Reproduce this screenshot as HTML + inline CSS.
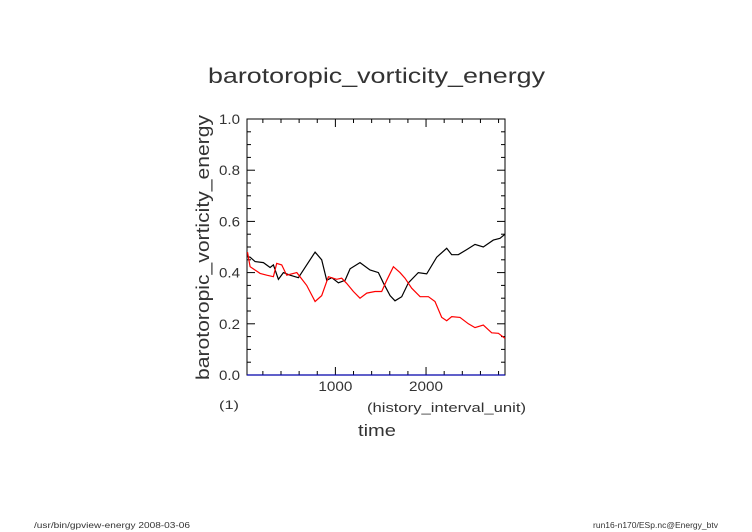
<!DOCTYPE html>
<html><head><meta charset="utf-8"><style>
body{margin:0;background:#fff;}
svg{display:block;font-family:"Liberation Sans",sans-serif;}
</style></head><body>
<svg id="c" width="752" height="532" viewBox="0 0 752 532">
<text x="208" y="83" font-size="21" fill="#333" textLength="337" lengthAdjust="spacingAndGlyphs">barotoropic_vorticity_energy</text>
<text transform="translate(209,380) rotate(-90)" font-size="18" fill="#333" textLength="265" lengthAdjust="spacingAndGlyphs">barotoropic_vorticity_energy</text>
<text x="219" y="409" font-size="12" fill="#333" textLength="20" lengthAdjust="spacingAndGlyphs">(1)</text>
<text x="367" y="412" font-size="13" fill="#333" textLength="159" lengthAdjust="spacingAndGlyphs">(history_interval_unit)</text>
<text x="358" y="436" font-size="17" fill="#333" textLength="38" lengthAdjust="spacingAndGlyphs">time</text>
<text x="34" y="528" font-size="8" fill="#333" textLength="156" lengthAdjust="spacingAndGlyphs">/usr/bin/gpview-energy  2008-03-06</text>
<text x="593" y="528" font-size="8" fill="#333" textLength="125" lengthAdjust="spacingAndGlyphs">run16-n170/ESp.nc@Energy_btv</text>
<g id="plot"></g>
</svg>
<script>
const xTicks=[1000,2000];
const yTicks=[0.0,0.2,0.4,0.6,0.8,1.0];
const blackX=[30,59,114,206,280,316,371,427,500,592,684,776,849,904,960,1033,1107,1162,1272,1382,1474,1529,1603,1658,1732,1805,1915,2007,2118,2228,2283,2356,2448,2540,2632,2742,2816,2871];
const blackY=[0.462,0.46,0.443,0.439,0.42,0.43,0.374,0.40,0.39,0.38,0.43,0.48,0.45,0.37,0.38,0.36,0.37,0.415,0.439,0.41,0.40,0.36,0.31,0.29,0.306,0.36,0.40,0.395,0.46,0.495,0.47,0.47,0.49,0.51,0.50,0.527,0.534,0.55];
const redX=[30,59,169,243,316,353,408,463,574,684,776,849,923,1015,1070,1125,1199,1272,1346,1437,1511,1566,1640,1713,1768,1842,1934,2026,2099,2173,2228,2283,2375,2467,2540,2632,2724,2798,2871];
const redY=[0.48,0.423,0.397,0.39,0.384,0.436,0.43,0.39,0.40,0.35,0.287,0.31,0.384,0.374,0.378,0.358,0.326,0.30,0.32,0.326,0.326,0.37,0.423,0.40,0.378,0.339,0.306,0.306,0.287,0.225,0.212,0.228,0.225,0.20,0.185,0.195,0.165,0.163,0.143];
const L=247,R=505,T=119,B=375,x0=25,x1=2871;
const sx=v=>L+(v-x0)/(x1-x0)*(R-L);
const sy=v=>B-v*(B-T);
const g=document.getElementById('plot');
const NS='http://www.w3.org/2000/svg';
function mk(t,a,name){const e=document.createElementNS(NS,t);for(const k in a)e.setAttribute(k,a[k]);


g.appendChild(e);return e;}
mk('rect',{x:L,y:T,width:R-L,height:B-T,fill:'none',stroke:'#000','stroke-width':1},'plot-frame');
for(let v=200;v<x1;v+=200){const X=sx(v),len=(v%1000===0)?8:4;
mk('line',{x1:X,y1:B,x2:X,y2:B-len,stroke:'#000'},'x-tick');
mk('line',{x1:X,y1:T,x2:X,y2:T+len,stroke:'#000'},'x-tick-top');}
for(let i=1;i<20;i++){const v=i*0.05,Y=sy(v),len=(i%4===0)?8:4;
mk('line',{x1:L,y1:Y,x2:L+len,y2:Y,stroke:'#000'},'y-tick');
mk('line',{x1:R,y1:Y,x2:R-len,y2:Y,stroke:'#000'},'y-tick-right');}
mk('line',{x1:L,y1:B,x2:R,y2:B,stroke:'#00a','stroke-width':1.2},'x-axis-line');
yTicks.forEach(v=>{const t=mk('text',{x:219,y:sy(v)+5,'font-size':14,fill:'#333',textLength:21,lengthAdjust:'spacingAndGlyphs'},'y-tick-label');t.textContent=v.toFixed(1);});
xTicks.forEach(v=>{const t=mk('text',{x:sx(v)-17,y:391,'font-size':14,fill:'#333',textLength:34,lengthAdjust:'spacingAndGlyphs'},'x-tick-label');t.textContent=v;});
function line(xs,ys,c,name){mk('polyline',{points:xs.map((x,i)=>sx(x).toFixed(1)+','+sy(ys[i]).toFixed(1)).join(' '),fill:'none',stroke:c,'stroke-width':1.2},name);}
line(blackX,blackY,'#000','series-black');
line(redX,redY,'#f00','series-red');
</script>
</body></html>
